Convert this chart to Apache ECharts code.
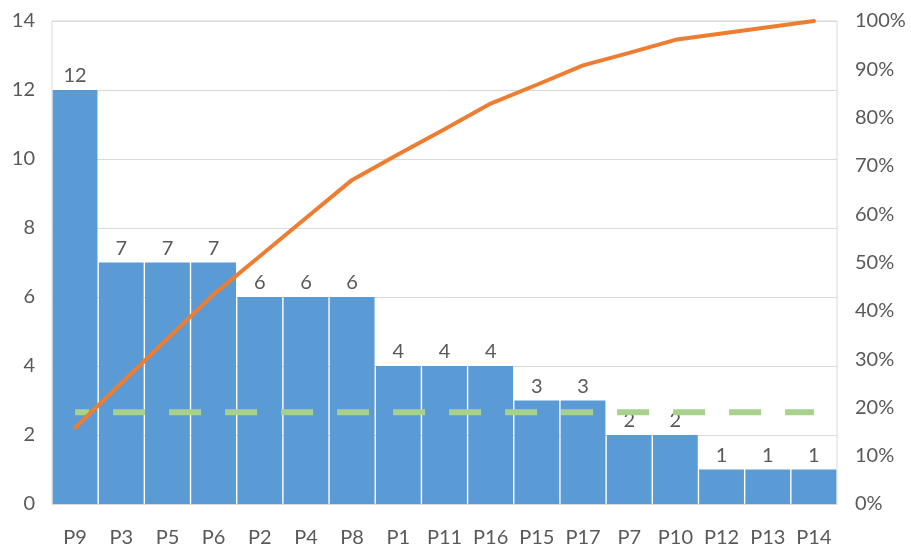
<!DOCTYPE html>
<html>
<head>
<meta charset="utf-8">
<script src="https://cdn.jsdelivr.net/npm/echarts@6/dist/echarts.min.js"></script>
<style>
  html, body { margin: 0; padding: 0; background: #fff; }
  #main { width: 911px; height: 548px; }
</style>
</head>
<body>
<div id="main"></div>
<script>
// categories and counts
var categories = ['P9', 'P3', 'P5', 'P6', 'P2', 'P4', 'P8', 'P1', 'P11', 'P16', 'P15', 'P17', 'P7', 'P10', 'P12', 'P13', 'P14'];
var counts = [12, 7, 7, 7, 6, 6, 6, 4, 4, 4, 3, 3, 2, 2, 1, 1, 1];
// cumulative share
var cumulative = [0.158, 0.25, 0.342, 0.434, 0.513, 0.592, 0.671, 0.724, 0.776, 0.829, 0.868, 0.908, 0.934, 0.961, 0.974, 0.987, 1.0];
// threshold (green dashed)
var threshold = [0.19, 0.19, 0.19, 0.19, 0.19, 0.19, 0.19, 0.19, 0.19, 0.19, 0.19, 0.19, 0.19, 0.19, 0.19, 0.19, 0.19];

function drawPareto(selectId) {
    var font = 'Lato';
    var option = {
        animation: false,
        grid: {
            left: 52,
            right: 74,
            top: 21,
            bottom: 44,
            show: true,
            borderColor: '#D9D9D9',
            borderWidth: 1
        },
        xAxis: {
            type: 'category',
            data: categories,
            axisLine: { show: true, lineStyle: { color: '#D9D9D9' } },
            axisTick: { show: false },
            axisLabel: { color: '#595959', fontFamily: font, fontSize: 20, margin: 24 }
        },
        yAxis: [
            {
                type: 'value',
                min: 0,
                max: 14,
                interval: 2,
                axisLine: { show: false },
                axisTick: { show: false },
                axisLabel: { color: '#595959', fontFamily: font, fontSize: 20, margin: 17 },
                splitLine: { show: true, lineStyle: { color: '#D9D9D9' } }
            },
            {
                type: 'value',
                min: 0,
                max: 1,
                interval: 0.1,
                axisLine: { show: false },
                axisTick: { show: false },
                splitLine: { show: false },
                axisLabel: {
                    color: '#595959',
                    fontFamily: font,
                    fontSize: 20,
                    margin: 18,
                    formatter: function (v) { return Math.round(v * 100) + '%'; }
                }
            }
        ],
        series: [
            {
                type: 'bar',
                data: counts,
                barCategoryGap: '3%',
                itemStyle: { color: '#5B9BD5' },
                label: {
                    show: true,
                    position: 'top',
                    distance: 4,
                    color: '#595959',
                    fontFamily: font,
                    fontSize: 20
                }
            },
            {
                type: 'line',
                yAxisIndex: 1,
                data: threshold,
                symbol: 'none',
                // 虚线相位对齐原图
                lineStyle: { color: '#A9D18E', width: 6, type: [32, 24], dashOffset: 18, cap: 'butt' }
            },
            {
                type: 'line',
                yAxisIndex: 1,
                data: cumulative,
                symbol: 'none',
                lineStyle: { color: '#ED7D31', width: 4, cap: 'round' }
            }
        ]
    };
    var myChart = echarts.init(document.getElementById(selectId));
    myChart.setOption(option);
}

drawPareto('main');
</script>
</body>
</html>
